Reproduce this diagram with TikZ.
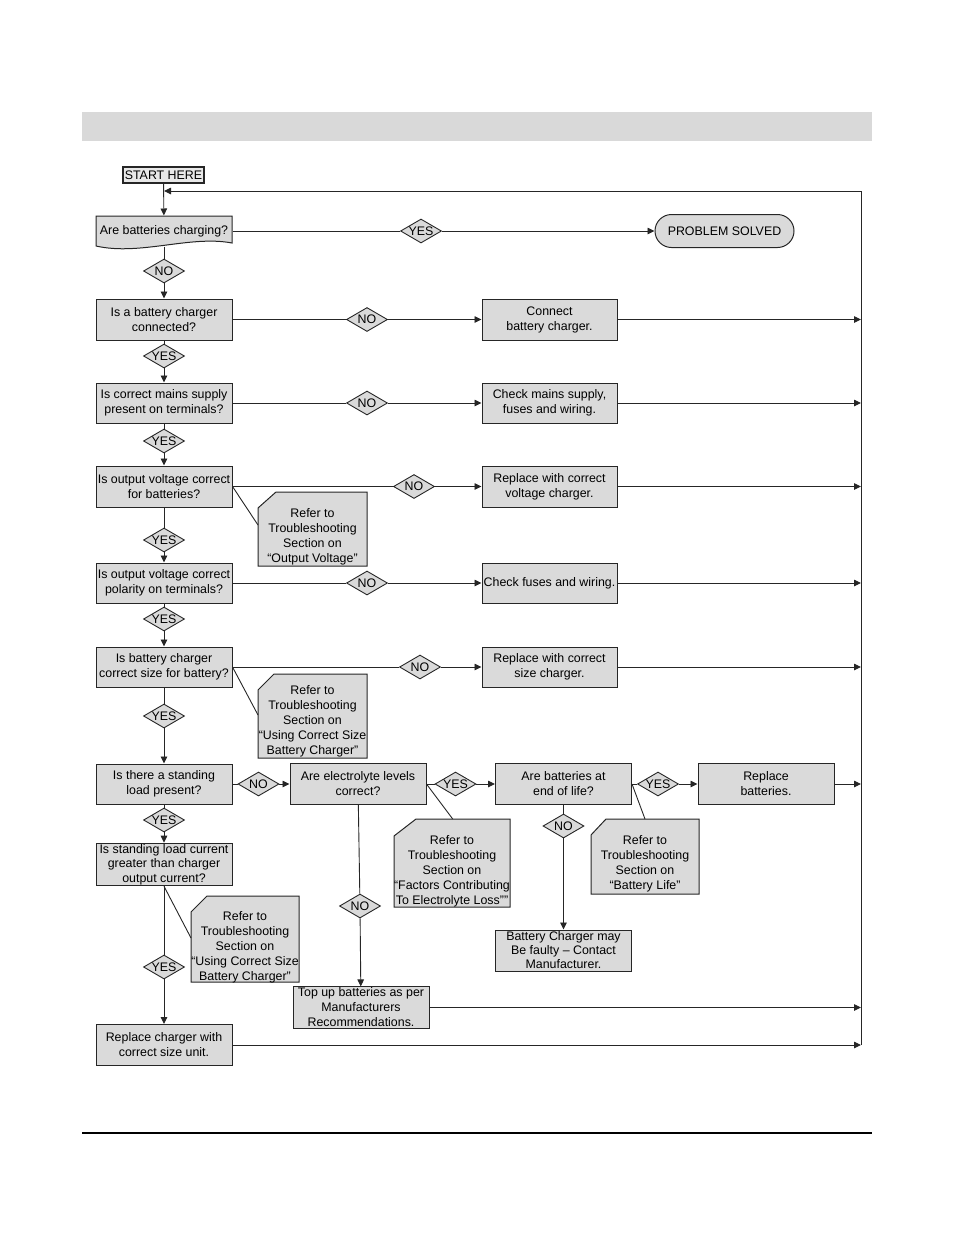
\documentclass[tikz,border=0pt]{standalone}
\usepackage{fontspec}
\setmainfont{Liberation Sans}
\usetikzlibrary{shapes.geometric,arrows.meta}
\definecolor{boxgray}{RGB}{218,218,218}
\definecolor{bargray}{RGB}{217,217,217}
\definecolor{startgray}{RGB}{232,232,232}
\newcommand{\fcfont}{\fontsize{12.4}{15}\selectfont}
\tikzset{
  box/.style      = {rectangle, draw=black!85, fill=boxgray, line width=1pt,
                     minimum width=136pt, minimum height=41pt, inner sep=1pt,
                     align=center, font=\fcfont},
  dec/.style      = {diamond, draw=black!85, fill=boxgray, line width=0.9pt,
                     aspect=1.7, inner sep=0pt, minimum width=41pt,
                     minimum height=24pt, font=\fcfont},
  notebox/.style  = {draw=black!85, fill=boxgray, line width=1pt},
  notetext/.style = {align=center, inner sep=0pt, font=\fcfont},
  flow/.style     = {draw=black!85, line width=0.9pt},
  arr/.style      = {flow, -{Triangle[length=7pt,width=6.5pt]}},
}

\begin{document}
\begin{tikzpicture}[x=1pt,y=-1pt]
        \useasboundingbox (0,0) rectangle (954,1235);
        \fill[bargray] (82,112) rectangle (872,141);
        \draw[line width=1.2pt] (82,1133) -- (872,1133);
        % first question is a document shape
        \draw[notebox] (96,216) -- (232,216) -- (232,243) .. controls (190,235) and (140,256) .. (96,246) -- cycle;
        \node[box, fill=startgray, line width=1.6pt, minimum width=81pt, minimum height=16pt, inner sep=0pt] (start) at (163.5,175) {START HERE};
        \node[box, draw=none, fill=none, minimum height=30pt] (q1) at (164,231) {Are batteries charging?};
        \node[dec] (y1) at (421,231) {YES};
        \node[box, rounded corners=16.5pt, minimum width=139pt, minimum height=33pt] (solved) at (724.5,231) {PROBLEM SOLVED};
        \node[dec] (n1) at (164,271) {NO};
        \node[box] (q2) at (164,319.5) {Is a battery charger\\connected?};
        \node[dec] (n2) at (367,319.5) {NO};
        \node[box, minimum width=135pt] (a2) at (549.5,319.5) {Connect\\battery charger.};
        \node[dec] (y2) at (164,356) {YES};
        \node[box, minimum height=40pt] (q3) at (164,403) {Is correct mains supply\\present on terminals?};
        \node[dec] (n3) at (367,403) {NO};
        \node[box, minimum width=135pt, minimum height=40pt] (a3) at (549.5,403) {Check mains supply,\\fuses and wiring.};
        \node[dec] (y3) at (164,441) {YES};
        \node[box] (q4) at (164,486.5) {Is output voltage correct\\for batteries?};
        \node[dec] (n4) at (414,486.5) {NO};
        \node[box, minimum width=135pt] (a4) at (549.5,486.5) {Replace with correct\\voltage charger.};
        \node[dec] (y4) at (164,540) {YES};
        \node[box, minimum height=40pt] (q5) at (164,583) {Is output voltage correct\\polarity on terminals?};
        \node[dec] (n5) at (367,583) {NO};
        \node[box, minimum width=135pt, minimum height=40pt] (a5) at (549.5,583) {Check fuses and wiring.};
        \node[dec] (y5) at (164,619) {YES};
        \node[box, minimum height=40pt] (q6) at (164,667) {Is battery charger\\correct size for battery?};
        \node[dec] (n6) at (420,667) {NO};
        \node[box, minimum width=135pt, minimum height=40pt] (a6) at (549.5,667) {Replace with correct\\size charger.};
        \node[dec] (y6) at (164,716) {YES};
        \node[box, minimum height=40pt] (q7) at (164,784) {Is there a standing\\load present?};
        \node[dec] (n7) at (258.5,784) {NO};
        \node[box] (e1) at (358,784) {Are electrolyte levels\\correct?};
        \node[dec] (y7) at (455.5,784) {YES};
        \node[box] (e2) at (563.5,784) {Are batteries at\\end of life?};
        \node[dec] (y8) at (658,784) {YES};
        \node[box] (e3) at (766,784) {Replace\\batteries.};
        \node[dec] (n8) at (563.5,826) {NO};
        \node[box, font={\fontsize{12.4}{14}\selectfont}] (e4) at (563.5,950.5) {Battery Charger may\\Be faulty – Contact\\Manufacturer.};
        \node[dec] (n9) at (360,906) {NO};
        \node[box] (e5) at (361,1007.5) {Top up batteries as per\\Manufacturers\\Recommendations.};
        \node[dec] (y9) at (164,820) {YES};
        \node[box, font={\fontsize{12.4}{14.5}\selectfont}] (q8) at (164,864.5) {Is standing load current\\greater than charger\\output current?};
        \node[dec] (y10) at (164,967) {YES};
        \node[box] (q9) at (164,1045) {Replace charger with\\correct size unit.};
        % notes
        \draw[notebox] (258,508) -- (276,492) -- (367,492) -- (367,566) -- (258,566) -- cycle;
        \node[notetext] (t1) at (312.5,536.5) {Refer to\\Troubleshooting\\Section on\\“Output Voltage”};
        \coordinate (t1in) at (258,525);
        \draw[notebox] (258,690) -- (274,674) -- (367,674) -- (367,758) -- (258,758) -- cycle;
        \node[notetext] (t2) at (312.5,721) {Refer to\\Troubleshooting\\Section on\\“Using Correct Size\\Battery Charger”};
        \coordinate (t2in) at (258,715);
        \draw[notebox] (394,836) -- (416,819) -- (510,819) -- (510,907) -- (394,907) -- cycle;
        \node[notetext] (t3) at (452,871.5) {Refer to\\Troubleshooting\\Section on\\“Factors Contributing\\To Electrolyte Loss””};
        \coordinate (t3in) at (452.7,819);
        \draw[notebox] (591,835) -- (606,819) -- (699,819) -- (699,894) -- (591,894) -- cycle;
        \node[notetext] (t4) at (645,863.5) {Refer to\\Troubleshooting\\Section on\\“Battery Life”};
        \coordinate (t4in) at (645,819);
        \draw[notebox] (191,912) -- (207,896) -- (299,896) -- (299,982) -- (191,982) -- cycle;
        \node[notetext] (t5) at (245,947) {Refer to\\Troubleshooting\\Section on\\“Using Correct Size\\Battery Charger”};
        \coordinate (t5in) at (191,938);
        % return line
        \coordinate (rtop) at (861,191);
        \coordinate (rbot) at (861,1045);
        \coordinate (join) at (164,191);
        \draw[flow] (rbot) -- (rtop);
        \draw[arr] (rtop) -- (join);
        \draw[arr] (start) -- (q1);
        \foreach \a/\d/\b in {q1/y1/solved, q1/n1/q2, q2/y2/q3, q3/y3/q4, q4/y4/q5, q5/y5/q6,
                              q6/y6/q7, q7/y9/q8, q8/y10/q9, q2/n2/a2, q3/n3/a3, q4/n4/a4,
                              q5/n5/a5, q6/n6/a6, q7/n7/e1, e1/y7/e2, e2/y8/e3, e2/n8/e4, e1/n9/e5} {
            \draw[flow] (\a) -- (\d);
            \draw[arr] (\d) -- (\b);
        }
        \foreach \b in {a2,a3,a4,a5,a6,e3,e5,q9} {
            \draw[arr] (\b) -- (\b -| rtop);
        }
        \draw[flow] (q4.east) -- (t1in);
        \draw[flow] (q6.east) -- (t2in);
        \draw[flow] (e1.east) -- (t3in);
        \draw[flow] (e2.east) -- (t4in);
        \draw[flow] (q8.south) -- (t5in);
\end{tikzpicture}
\end{document}
